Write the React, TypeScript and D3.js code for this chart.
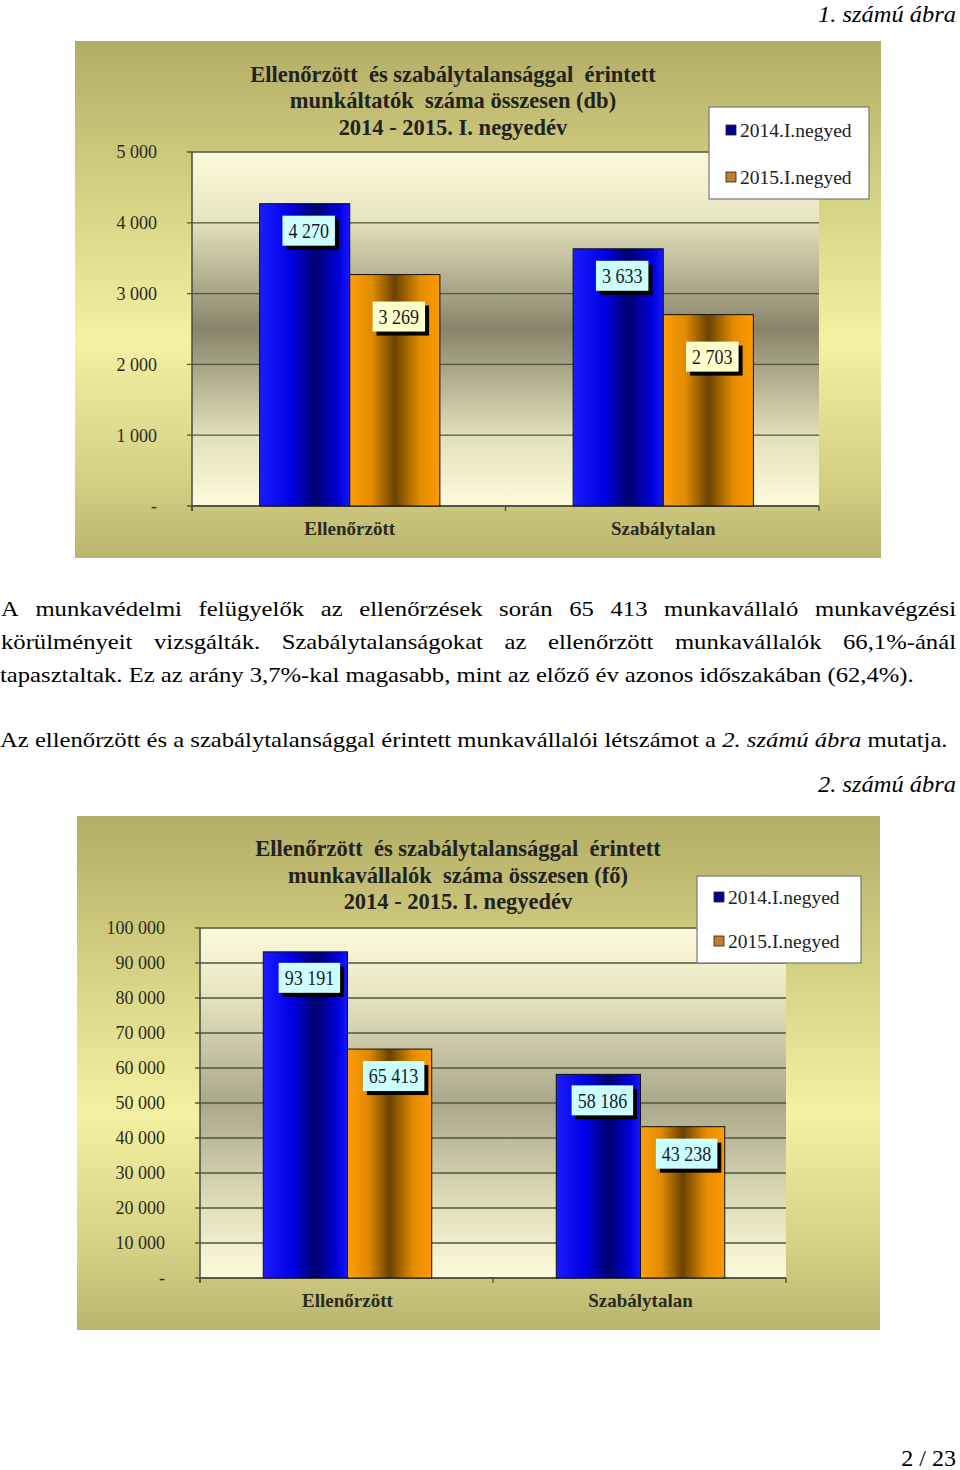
import React from 'react';
import * as d3 from 'd3';

// ---------- data ----------
const categories = ['Ellenőrzött', 'Szabálytalan'];
const seriesNames = ['2014.I.negyed', '2015.I.negyed'];

const employerTitle = [
  'Ellenőrzött  és szabálytalansággal  érintett',
  'munkáltatók  száma összesen (db)',
  '2014 - 2015. I. negyedév',
];
const employers2014 = [4270, 3633];
const employers2015 = [3269, 2703];
const employerTicks = [0, 1000, 2000, 3000, 4000, 5000];

const employeeTitle = [
  'Ellenőrzött  és szabálytalansággal  érintett',
  'munkavállalók  száma összesen (fő)',
  '2014 - 2015. I. negyedév',
];
const employees2014 = [93191, 58186];
const employees2015 = [65413, 43238];
const employeeTicks = [0, 10000, 20000, 30000, 40000, 50000, 60000, 70000, 80000, 90000, 100000];

const paragraph1 = [
  'A munkavédelmi felügyelők az ellenőrzések során 65 413 munkavállaló munkavégzési',
  'körülményeit vizsgálták. Szabálytalanságokat az ellenőrzött munkavállalók 66,1%-ánál',
];
const paragraph1Last = 'tapasztaltak. Ez az arány 3,7%-kal magasabb, mint az előző év azonos időszakában (62,4%).';
const paragraph2 = [
  { t: 'Az ellenőrzött és a szabálytalansággal érintett munkavállalói létszámot a ', i: false },
  { t: '2. számú ábra', i: true },
  { t: ' mutatja.', i: false },
];
const caption1 = '1. számú ábra';
const caption2 = '2. számú ábra';
const pageNumber = '2 / 23';

// ---------- helpers ----------
const SERIF = '"Liberation Serif", "Times New Roman", serif';
let ctx: CanvasRenderingContext2D | null = null;
function measure(text: string, font: string): number {
  if (!ctx) ctx = document.createElement('canvas').getContext('2d');
  ctx!.font = font;
  return ctx!.measureText(text).width;
}
const fmt = (v: number) => (v === 0 ? '-' : d3.format(',')(v).replace(/,/g, ' '));

type Cfg = {
  id: string;
  frame: { x: number; y: number; w: number; h: number };
  plot: { x: number; y: number; w: number; h: number };
  yMax: number;
  ticks: number[];
  tickLabelX: number;
  title: string[];
  titleX: number;
  titleY: number[];
  legend: { x: number; y: number; w: number; h: number };
  legendRows: number[];
  catLabelY: number;
  values: number[][];
  labelFills: string[];
  labelOffsets: number[];
  plotMid: string;
};

const barStops = [
  [
    ['0%', '#1c1cff'],
    ['35%', '#0000e6'],
    ['62%', '#00006e'],
    ['88%', '#0000dd'],
    ['100%', '#1818ff'],
  ],
  [
    ['0%', '#ff9d0a'],
    ['25%', '#e08a00'],
    ['50%', '#6a4200'],
    ['78%', '#e48c00'],
    ['100%', '#ff9a00'],
  ],
];

function BarChart({ cfg }: { cfg: Cfg }) {
  const { id, frame, plot, yMax, ticks, tickLabelX, title, titleX, titleY, legend, legendRows, catLabelY, values, labelFills, labelOffsets, plotMid } = cfg;
  const y = d3.scaleLinear().domain([0, yMax]).range([plot.y + plot.h, plot.y]);
  const x0 = d3.scaleBand().domain(categories).range([plot.x, plot.x + plot.w]);
  const groupW = x0.bandwidth() * 0.575;
  const x1 = d3.scaleBand().domain(seriesNames).range([0, groupW]);
  const bottom = plot.y + plot.h;
  const valueFont = `20px "Liberation Serif"`;
  const titleFont = `bold 22.5px "Liberation Serif"`;

  return (
    <g>
      <defs>
        <linearGradient id={`${id}-outer`} x1="0" y1="0" x2="0" y2="1">
          <stop offset="0%" stopColor="#b3ad66" />
          <stop offset="30%" stopColor="#d6d284" />
          <stop offset="58%" stopColor="#f4f1a3" />
          <stop offset="85%" stopColor="#d4cf83" />
          <stop offset="100%" stopColor="#bab56d" />
        </linearGradient>
        <linearGradient id={`${id}-plot`} x1="0" y1="0" x2="0" y2="1">
          <stop offset="0%" stopColor="#fdfbdc" />
          <stop offset="18%" stopColor="#e9e6c2" />
          <stop offset="50%" stopColor={plotMid} />
          <stop offset="80%" stopColor="#e2dfbb" />
          <stop offset="100%" stopColor="#fdfbdc" />
        </linearGradient>
        {barStops.map((stops, si) => (
          <linearGradient key={si} id={`${id}-bar${si}`} x1="0" y1="0" x2="1" y2="0">
            {stops.map(([o, c]) => (
              <stop key={o} offset={o} stopColor={c} />
            ))}
          </linearGradient>
        ))}
      </defs>
      <rect x={frame.x} y={frame.y} width={frame.w} height={frame.h} fill={`url(#${id}-outer)`} />
      <rect x={plot.x} y={plot.y} width={plot.w} height={plot.h} fill={`url(#${id}-plot)`} />
      {/* gridlines */}
      {ticks.map((t) => (
        <line key={t} x1={plot.x - 5} x2={plot.x + plot.w} y1={y(t)} y2={y(t)} stroke="#55533f" strokeWidth={1.3} />
      ))}
      {ticks.map((t) => (
        <text key={`l${t}`} x={tickLabelX} y={y(t)} dy="0.35em" textAnchor="end" fontFamily={SERIF} fontSize={18} fill="#2b2b22">
          {fmt(t)}
        </text>
      ))}
      {/* axes */}
      <line x1={plot.x} x2={plot.x} y1={plot.y} y2={bottom + 5} stroke="#4a4a40" strokeWidth={1.5} />
      <line x1={plot.x} x2={plot.x + plot.w} y1={bottom} y2={bottom} stroke="#4a4a40" strokeWidth={1.5} />
      {[...categories.map((c) => x0(c)!), plot.x + plot.w].map((xv, i) => (
        <line key={i} x1={xv} x2={xv} y1={bottom} y2={bottom + 5} stroke="#4a4a40" strokeWidth={1.3} />
      ))}
      {/* bars */}
      {categories.map((c, ci) =>
        seriesNames.map((s, si) => {
          const v = values[si][ci];
          const bx = x0(c)! + (x0.bandwidth() - groupW) / 2 + 1 + x1(s)!;
          const bw = x1.bandwidth();
          return (
            <rect key={`${c}-${s}`} x={bx} y={y(v)} width={bw} height={bottom - y(v)} fill={`url(#${id}-bar${si})`} stroke="#111" strokeWidth={1} />
          );
        })
      )}
      {/* value labels */}
      {categories.map((c, ci) =>
        seriesNames.map((s, si) => {
          const v = values[si][ci];
          const bx = x0(c)! + (x0.bandwidth() - groupW) / 2 + 1 + x1(s)!;
          const cx = bx + x1.bandwidth() / 2 + 4;
          const cy = y(v) + labelOffsets[si];
          const txt = fmt(v);
          const tw = measure(txt, valueFont) * 0.9;
          const w = tw + 12;
          const h = 30;
          return (
            <g key={`lab-${c}-${s}`}>
              <rect x={cx - w / 2 + 4} y={cy - h / 2 + 4} width={w} height={h} fill="#000" />
              <rect x={cx - w / 2} y={cy - h / 2} width={w} height={h} fill={labelFills[si]} />
              <text x={cx - tw / 2} y={cy} dy="0.36em" textLength={tw} lengthAdjust="spacingAndGlyphs" fontFamily={SERIF} fontSize={20} fill="#1a1a1a">
                {txt}
              </text>
            </g>
          );
        })
      )}
      {/* category labels */}
      {categories.map((c) => (
        <text key={c} x={x0(c)! + x0.bandwidth() / 2 + 1} y={catLabelY} dy="0.35em" textAnchor="middle" fontFamily={SERIF} fontWeight="bold" fontSize={19} fill="#2a2a20">
          {c}
        </text>
      ))}
      {/* title */}
      {title.map((t, i) => {
        const tw = measure(t, titleFont);
        return (
          <text key={i} x={titleX - tw / 2} y={titleY[i]} dy="0.35em" textLength={tw} lengthAdjust="spacingAndGlyphs" fontFamily={SERIF} fontWeight="bold" fontSize={22.5} fill="#222" style={{ whiteSpace: 'pre' }}>
            {t}
          </text>
        );
      })}
      {/* legend */}
      <rect x={legend.x} y={legend.y} width={legend.w} height={legend.h} fill="#fff" stroke="#777" strokeWidth={1.2} />
      {seriesNames.map((s, si) => (
        <g key={s}>
          <rect x={legend.x + 17} y={legendRows[si] - 5} width={10} height={10} fill={si === 0 ? '#00008f' : '#c47d28'} stroke="#222" strokeWidth={0.8} />
          <text x={legend.x + 31} y={legendRows[si]} dy="0.35em" fontFamily={SERIF} fontSize={19.5} fill="#222">
            {s}
          </text>
        </g>
      ))}
    </g>
  );
}

const chart1: Cfg = {
  id: 'c1',
  frame: { x: 75, y: 41, w: 806, h: 517 },
  plot: { x: 192, y: 152, w: 627, h: 354 },
  yMax: 5000,
  ticks: employerTicks,
  tickLabelX: 157,
  title: employerTitle,
  titleX: 453,
  titleY: [74, 100, 127],
  legend: { x: 709, y: 107, w: 160, h: 92 },
  legendRows: [130, 177],
  catLabelY: 528,
  values: [employers2014, employers2015],
  labelFills: ['#ccffff', '#ffffcc'],
  labelOffsets: [27, 42],
  plotMid: '#878469',
};

const chart2: Cfg = {
  id: 'c2',
  frame: { x: 77, y: 816, w: 803, h: 514 },
  plot: { x: 200, y: 928, w: 586, h: 350 },
  yMax: 100000,
  ticks: employeeTicks,
  tickLabelX: 165,
  title: employeeTitle,
  titleX: 458,
  titleY: [848, 875, 901],
  legend: { x: 697, y: 876, w: 164, h: 87 },
  legendRows: [897, 941],
  catLabelY: 1300,
  values: [employees2014, employees2015],
  labelFills: ['#ccffff', '#ccffff'],
  labelOffsets: [26, 27],
  plotMid: '#aaa78b',
};

const BODY = `22px "Liberation Serif"`;
const BODY_I = `italic 22px "Liberation Serif"`;
const PN = `24px "Liberation Serif"`;

function JustifiedLine({ text, y, x0, x1, k }: { text: string; y: number; x0: number; x1: number; k: number }) {
  const words = text.split(' ');
  const widths = words.map((w) => measure(w, BODY) * k);
  const total = d3.sum(widths);
  const gap = (x1 - x0 - total) / (words.length - 1);
  let cur = x0;
  return (
    <g>
      {words.map((w, i) => {
        const x = cur;
        cur += widths[i] + gap;
        return (
          <text key={i} x={x} y={y} textLength={widths[i]} lengthAdjust="spacingAndGlyphs" fontFamily={SERIF} fontSize={22} fill="#000">
            {w}
          </text>
        );
      })}
    </g>
  );
}

export default function App() {
  const k3 = 914 / measure(paragraph1Last, BODY);
  const p2w = d3.sum(paragraph2, (s) => measure(s.t, s.i ? BODY_I : BODY));
  const k5 = 948 / p2w;
  const cap1w = 138;
  const cap2w = 138;
  const pnw = measure(pageNumber, PN);
  return (
    <svg width={960} height={1470} style={{ position: 'absolute', left: 0, top: 0, background: '#fff' }}>
      <rect x={0} y={0} width={960} height={1470} fill="#fff" />
      <text x={956 - cap1w} y={22} textLength={cap1w} lengthAdjust="spacingAndGlyphs" fontFamily={SERIF} fontStyle="italic" fontSize={23}>
        {caption1}
      </text>
      <BarChart cfg={chart1} />
      {paragraph1.map((t, i) => (
        <JustifiedLine key={i} text={t} y={616 + i * 33} x0={1} x1={956} k={k3} />
      ))}
      <g transform={`translate(0,${616 + 2 * 33}) scale(${k3},1)`}>
        <text x={0} y={0} fontFamily={SERIF} fontSize={22}>
          {paragraph1Last}
        </text>
      </g>
      <g transform={`translate(0,747) scale(${k5},1)`}>
        <text x={0} y={0} fontFamily={SERIF} fontSize={22} style={{ whiteSpace: 'pre' }}>
          {paragraph2.map((s, i) => (
            <tspan key={i} fontStyle={s.i ? 'italic' : 'normal'}>
              {s.t}
            </tspan>
          ))}
        </text>
      </g>
      <text x={956 - cap2w} y={792} textLength={cap2w} lengthAdjust="spacingAndGlyphs" fontFamily={SERIF} fontStyle="italic" fontSize={23}>
        {caption2}
      </text>
      <BarChart cfg={chart2} />
      <text x={956 - pnw} y={1466} textLength={pnw} lengthAdjust="spacingAndGlyphs" fontFamily={SERIF} fontSize={24}>
        {pageNumber}
      </text>
    </svg>
  );
}
